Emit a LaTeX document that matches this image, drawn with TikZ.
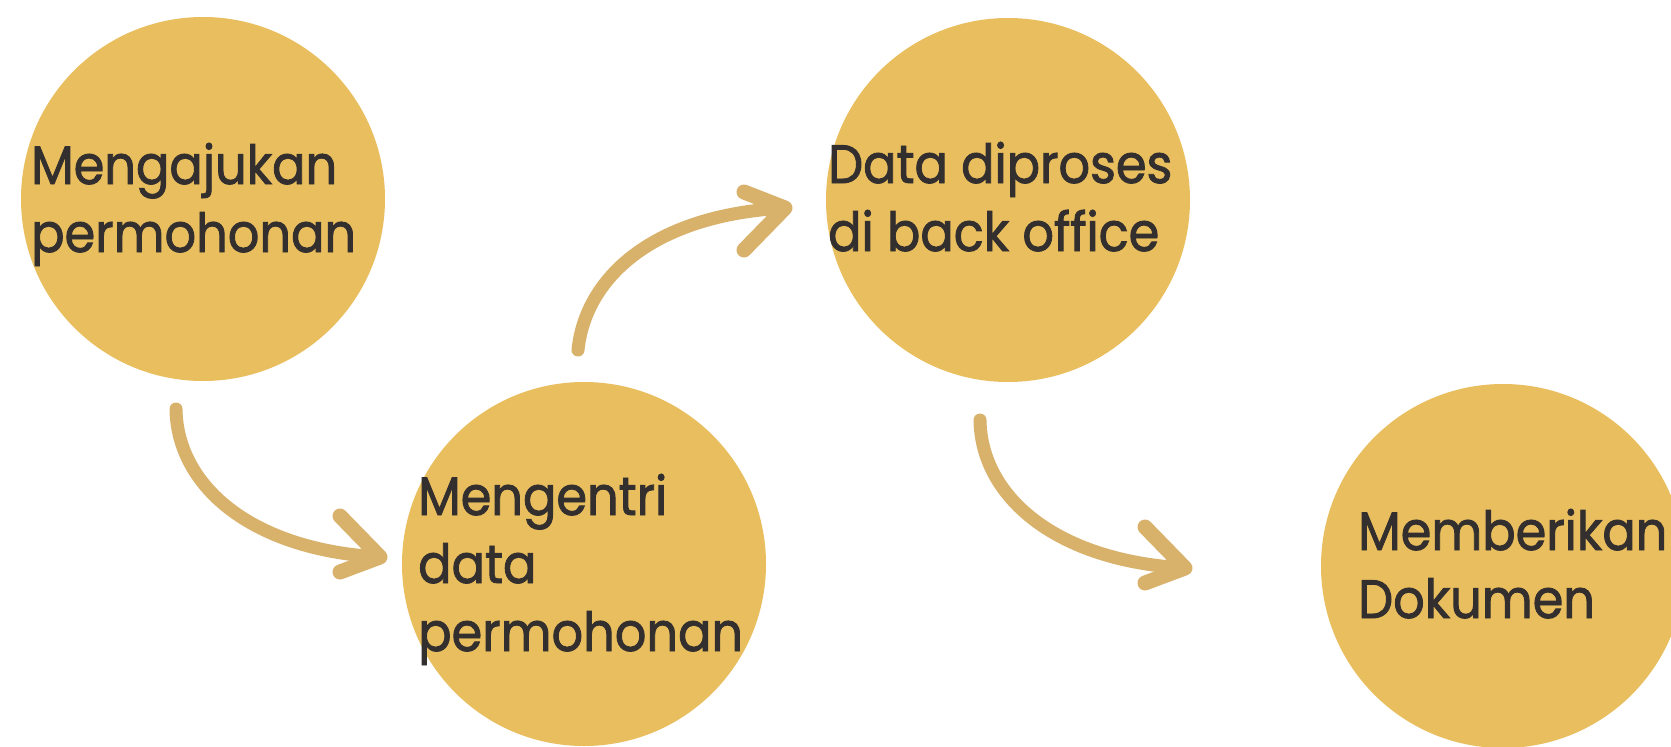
\documentclass[tikz,border=0pt]{standalone}
\usepackage{fontspec}
\setmainfont{Poppins}[FakeStretch=0.915,FakeBold=1.6]
\definecolor{circfill}{HTML}{E9BE5E}
\definecolor{arrowcol}{HTML}{D8B16B}
\definecolor{txtcol}{HTML}{332F2E}
\begin{document}
\begin{tikzpicture}[x=1pt,y=-1pt,
  stepcircle/.style={circle,fill=circfill,draw=none,minimum size=364pt,inner sep=0pt},
  steptext/.style={anchor=base west,align=left,inner sep=0pt,text=txtcol,
    font=\fontsize{54}{68}\selectfont},
  flowarrow/.style={draw=arrowcol,line width=13pt,line cap=round,line join=round},
  arrowbarb/.style={draw=arrowcol,line width=15pt,line cap=round,line join=round}]
\useasboundingbox (0,0) rectangle (1671,747);
\clip (0,0) rectangle (1671,747);
\fill[white] (0,0) rectangle (1671,747);
% circles
\node[stepcircle] (c1) at (203,199) {};
\node[stepcircle] (c2) at (584,564) {};
\node[stepcircle] (c3) at (1008,200) {};
\node[stepcircle] (c4) at (1503,566) {};
% texts (anchored at the baseline of the last line)
\node[steptext] (t1) at (31,252) {Mengajukan\\permohonan};
\node[steptext] (t2) at (418,651) {Mengentri\\data\\permohonan};
\node[steptext] (t3) at (828,251) {Data diproses\\di back office};
\node[steptext] (t4) at (1358,618) {Memberikan\\Dokumen};
% arrow coordinates
\coordinate (a1s) at (176,409);
\coordinate (a1e) at (380,557);
\coordinate (a1u) at (340,516);
\coordinate (a1l) at (340,572);
\coordinate (a2s) at (578,350);
\coordinate (a2e) at (785,208);
\coordinate (a2u) at (744,192);
\coordinate (a2l) at (744,250);
\coordinate (a3s) at (980,420);
\coordinate (a3e) at (1185,568);
\coordinate (a3u) at (1145,527);
\coordinate (a3l) at (1145,583);
% arrows
\draw[flowarrow] (a1s) .. controls (177,485) and (250,550) .. (a1e);
\draw[arrowbarb] (a1u) -- (a1e) -- (a1l);
\draw[flowarrow] (a2s) .. controls (585,280) and (650,215) .. (a2e);
\draw[arrowbarb] (a2u) -- (a2e) -- (a2l);
\draw[flowarrow] (a3s) .. controls (981,496) and (1055,561) .. (a3e);
\draw[arrowbarb] (a3u) -- (a3e) -- (a3l);
\end{tikzpicture}
\end{document}
